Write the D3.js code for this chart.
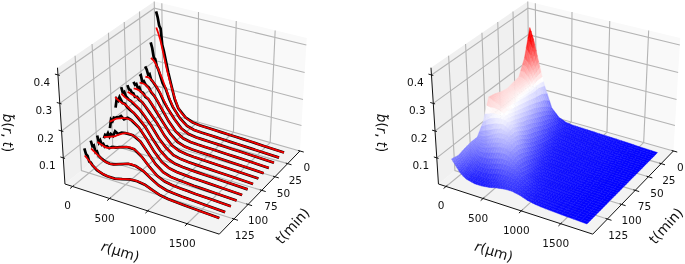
<!DOCTYPE html>
<html>
<head>
<meta charset="utf-8">
<style>
html, body { margin: 0; padding: 0; background: #fff; }
svg { display: block; filter: blur(0.35px); }
text { font-family: "DejaVu Sans", sans-serif; fill: #111; }
</style>
<script src="https://cdn.jsdelivr.net/npm/d3@7"></script>
</head>
<body>
<div id="chart"></div>
<script>
const rTicks = [0, 500, 1000, 1500];
const tTicks = [0, 25, 50, 75, 100, 125];
const bTicks = [0.1, 0.2, 0.3, 0.4];

const rValues = [0, 50, 100, 150, 200, 300, 400, 500, 600, 700, 800, 900, 1000, 1100, 1200, 1300, 1500, 1750];
const tValues = [10, 20, 30, 40, 50, 60, 70, 80, 90, 100, 110, 120, 130, 140];

// fitted profile, one row per time (last row only appears in the surface)
const fitRows = [
  [.35, .31, .25, .19, .14, .06, .03, .018, .014, .013, .012, .011, .01, .009, .008, .007, .004, .001],
  [.25, .24, .215, .185, .15, .085, .045, .022, .014, .012, .011, .01, .009, .008, .007, .006, .004, .001],
  [.195, .195, .185, .17, .15, .10, .06, .03, .017, .012, .011, .01, .009, .008, .007, .006, .004, .001],
  [.19, .19, .185, .17, .155, .115, .07, .037, .019, .013, .011, .01, .009, .008, .007, .006, .004, .001],
  [.185, .185, .18, .17, .16, .125, .085, .048, .024, .014, .011, .01, .009, .008, .007, .006, .004, .001],
  [.19, .185, .18, .175, .165, .135, .10, .06, .03, .017, .012, .01, .009, .008, .007, .006, .004, .001],
  [.20, .19, .185, .18, .17, .145, .11, .07, .04, .02, .013, .01, .009, .008, .007, .006, .004, .001],
  [.205, .195, .19, .185, .175, .155, .125, .085, .05, .026, .015, .011, .009, .008, .007, .006, .004, .001],
  [.13, .14, .15, .155, .16, .16, .14, .105, .065, .034, .018, .012, .01, .008, .007, .006, .004, .001],
  [.09, .095, .10, .105, .115, .13, .13, .115, .08, .045, .023, .014, .011, .009, .007, .006, .004, .001],
  [.09, .085, .08, .08, .085, .095, .105, .105, .085, .055, .03, .017, .012, .009, .008, .006, .004, .001],
  [.085, .075, .065, .055, .05, .05, .06, .07, .07, .06, .04, .023, .014, .011, .008, .007, .004, .001],
  [.078, .065, .05, .04, .032, .025, .025, .032, .04, .042, .038, .026, .016, .011, .009, .007, .004, .001],
  [.085, .065, .045, .032, .024, .017, .017, .021, .028, .033, .034, .028, .018, .012, .009, .007, .004, .001]
];

// measured profile near the centre, the rest of each row follows the fit
const measuredR = [0, 20, 40, 60, 80, 100, 130, 160, 200, 250, 300];
const measuredRows = [
  [.41, .39, .36, .35, .29, .27, .23, .19, .145, .09, .058],
  [.31, .29, .255, .25, .225, .215, .19, .165, .148, .11, .082],
  [.235, .225, .205, .21, .19, .185, .175, .165, .148, .12, .098],
  [.215, .22, .195, .2, .19, .185, .18, .165, .155, .135, .113],
  [.21, .2, .205, .19, .195, .18, .178, .165, .16, .142, .123],
  [.215, .2, .2, .19, .19, .178, .18, .17, .165, .15, .133],
  [.225, .205, .21, .195, .19, .185, .182, .175, .168, .158, .143],
  [.165, .2, .195, .21, .2, .19, .19, .18, .172, .165, .152],
  [.105, .14, .135, .15, .15, .155, .158, .165, .155, .165, .16],
  [.085, .1, .098, .11, .098, .11, .105, .125, .118, .128, .13],
  [.115, .09, .1, .085, .09, .08, .085, .08, .088, .09, .096],
  [.115, .095, .1, .075, .08, .066, .06, .055, .05, .048, .05],
  [.105, .085, .08, .06, .058, .05, .043, .036, .032, .027, .025]
];

const W = 685, H = 264;
const panelOffsets = [0, 373.5];

// camera of the 3d box
const view = {azim: 60, elev: 31, dist: 7, sx: 177, sy: 167, cx: 185, cy: 111.5};
const box = {u: 1, v: 1, w: 0.8};

const rScale = d3.scaleLinear().domain([-105, 1895]).range([0, box.u]);
const tScale = d3.scaleLinear().domain([0, 150]).range([0, box.v]);
const bScale = d3.scaleLinear().domain([0, 0.425]).range([0, box.w]);
const surfaceColor = d3.scaleLinear().domain([0, 0.165, 0.32]).range(["#0000ff", "#ffffff", "#ff0000"]).clamp(true);

const az = view.azim * Math.PI / 180, el = view.elev * Math.PI / 180;
const eye = [Math.cos(el) * Math.cos(az), Math.cos(el) * Math.sin(az), Math.sin(el)];
const right = [Math.sin(az), -Math.cos(az), 0];
const up = [-Math.sin(el) * Math.cos(az), -Math.sin(el) * Math.sin(az), Math.cos(el)];
const dot = (a, b) => a[0] * b[0] + a[1] * b[1] + a[2] * b[2];

// u, v, w are box coordinates
function project(u, v, w) {
  const p = [u - box.u / 2, v - box.v / 2, w - box.w / 2];
  const k = view.dist / (view.dist - dot(p, eye));
  return [view.cx + view.sx * k * dot(p, right), view.cy - view.sy * k * dot(p, up)];
}
function depth(u, v, w) {
  return dot([u - box.u / 2, v - box.v / 2, w - box.w / 2], eye);
}

const lineGen = d3.line();
const polyPath = pts => lineGen(pts) + "Z";

const svg = d3.create("svg")
  .attr("width", W)
  .attr("height", H)
  .attr("viewBox", [0, 0, W, H]);

function drawBox(g) {
  const Um = box.u, Vm = box.v, Wm = box.w;
  const panes = [
    {fill: "#f3f3f3", pts: [[0, 0, 0], [Um, 0, 0], [Um, Vm, 0], [0, Vm, 0]]},
    {fill: "#f0f0f0", pts: [[0, 0, 0], [0, Vm, 0], [0, Vm, Wm], [0, 0, Wm]]},
    {fill: "#f9f9f9", pts: [[0, 0, 0], [Um, 0, 0], [Um, 0, Wm], [0, 0, Wm]]}
  ];
  g.append("g").selectAll("path").data(panes).join("path")
    .attr("d", d => polyPath(d.pts.map(p => project(...p))))
    .attr("fill", d => d.fill)
    .attr("stroke", "none");

  const gridLines = [];
  rTicks.forEach(r => {
    const u = rScale(r);
    gridLines.push([[u, Vm, 0], [u, 0, 0], [u, 0, Wm]]);
  });
  tTicks.forEach(t => {
    const v = tScale(t);
    gridLines.push([[Um, v, 0], [0, v, 0], [0, v, Wm]]);
  });
  bTicks.forEach(b => {
    const w = bScale(b);
    gridLines.push([[0, Vm, w], [0, 0, w], [Um, 0, w]]);
  });
  g.append("g").selectAll("path").data(gridLines).join("path")
    .attr("d", d => lineGen(d.map(p => project(...p))))
    .attr("fill", "none")
    .attr("stroke", "#b4b4b4")
    .attr("stroke-width", 1.1);

  const axisLines = [
    [[0, Vm, 0], [Um, Vm, 0]],
    [[Um, 0, 0], [Um, Vm, 0]],
    [[0, Vm, 0], [0, Vm, Wm]]
  ];
  rTicks.forEach(r => axisLines.push([[rScale(r), Vm - 0.012, 0], [rScale(r), Vm + 0.025, 0]]));
  tTicks.forEach(t => axisLines.push([[Um - 0.012, tScale(t), 0], [Um + 0.025, tScale(t), 0]]));
  bTicks.forEach(b => axisLines.push([[0.012, Vm, bScale(b)], [-0.02, Vm, bScale(b)]]));
  g.append("g").selectAll("path").data(axisLines).join("path")
    .attr("d", d => lineGen(d.map(p => project(...p))))
    .attr("fill", "none")
    .attr("stroke", "#111")
    .attr("stroke-width", 1);
}

function drawLabels(g) {
  const label = (txt, pos, dx, dy) => g.append("text")
    .attr("x", pos[0] + dx)
    .attr("y", pos[1] + dy)
    .attr("text-anchor", "middle")
    .attr("font-size", 10.5)
    .text(txt);
  rTicks.forEach(r => label(r, project(rScale(r), box.v, 0), -5, 23));
  tTicks.forEach(t => label(t, project(box.u, tScale(t), 0), 7 + t * 0.03, 20));
  bTicks.forEach(b => label(b.toFixed(1), project(0, box.v, bScale(b)), -16, 11));

  g.append("text")
    .attr("transform", "translate(119,256) rotate(17)")
    .attr("text-anchor", "middle")
    .attr("font-size", 14)
    .html('<tspan font-style="italic">r</tspan>(μm)');
  g.append("text")
    .attr("transform", "translate(296,229) rotate(-48)")
    .attr("text-anchor", "middle")
    .attr("font-size", 14)
    .text("t(min)");
  g.append("text")
    .attr("transform", "translate(3,133) rotate(90)")
    .attr("text-anchor", "middle")
    .attr("font-size", 13.5)
    .html('<tspan font-style="italic">b̃</tspan>(<tspan font-style="italic">r</tspan>, <tspan font-style="italic">t</tspan>)');
}

function drawLines(g) {
  const toScreen = (r, t, b) => project(rScale(r), tScale(t), bScale(b));
  const rows = d3.range(measuredRows.length);
  const fitLine = d3.line().curve(d3.curveMonotoneX);
  rows.forEach(i => {
    const t = tValues[i];
    const tail = rValues
      .map((r, j) => [r, fitRows[i][j]])
      .filter(d => d[0] > measuredR[measuredR.length - 1]);
    const measured = measuredR.map((r, j) => [r, measuredRows[i][j]]).concat(tail);
    g.append("path")
      .attr("d", lineGen(measured.map(d => toScreen(d[0], t, d[1]))))
      .attr("fill", "none")
      .attr("stroke", "#000")
      .attr("stroke-width", 2.7);
    const fit = rValues.map((r, j) => toScreen(r, t, fitRows[i][j]));
    g.append("path")
      .attr("d", fitLine(fit))
      .attr("fill", "none")
      .attr("stroke", "#f00000")
      .attr("stroke-width", 1.8);
  });
}

function drawSurface(g) {
  // each grid cell is shaded in small pieces, so the colour runs smoothly
  const nT = 3, nR = 3;
  const quads = [];
  const bAt = (i, j, a, b) => {
    const top = fitRows[i][j] * (1 - b) + fitRows[i][j + 1] * b;
    const bot = fitRows[i + 1][j] * (1 - b) + fitRows[i + 1][j + 1] * b;
    return top * (1 - a) + bot * a;
  };
  for (let i = 0; i < fitRows.length - 1; i++) {
    for (let j = 0; j < rValues.length - 1; j++) {
      for (let p = 0; p < nT; p++) {
        for (let q = 0; q < nR; q++) {
          const corners = [[p, q], [p, q + 1], [p + 1, q + 1], [p + 1, q]].map(([a, b]) => {
            const af = a / nT, bf = b / nR;
            const t = tValues[i] + (tValues[i + 1] - tValues[i]) * af;
            const r = rValues[j] + (rValues[j + 1] - rValues[j]) * bf;
            return [rScale(r), tScale(t), bScale(bAt(i, j, af, bf))];
          });
          const zMean = d3.mean(corners, c => c[2]);
          quads.push({
            corners,
            order: d3.mean(corners, c => depth(...c)),
            color: surfaceColor(bScale.invert(zMean))
          });
        }
      }
    }
  }
  quads.sort((a, b) => a.order - b.order);
  g.append("g").selectAll("path").data(quads).join("path")
    .attr("d", d => polyPath(d.corners.map(c => project(...c))))
    .attr("fill", d => d.color)
    .attr("stroke", d => d.color)
    .attr("stroke-width", 0.4);
}

panelOffsets.forEach((dx, idx) => {
  const g = svg.append("g").attr("transform", `translate(${dx},0)`);
  drawBox(g);
  if (idx === 0) drawLines(g);
  else drawSurface(g);
  drawLabels(g);
});

document.getElementById("chart").appendChild(svg.node());
</script>
</body>
</html>
